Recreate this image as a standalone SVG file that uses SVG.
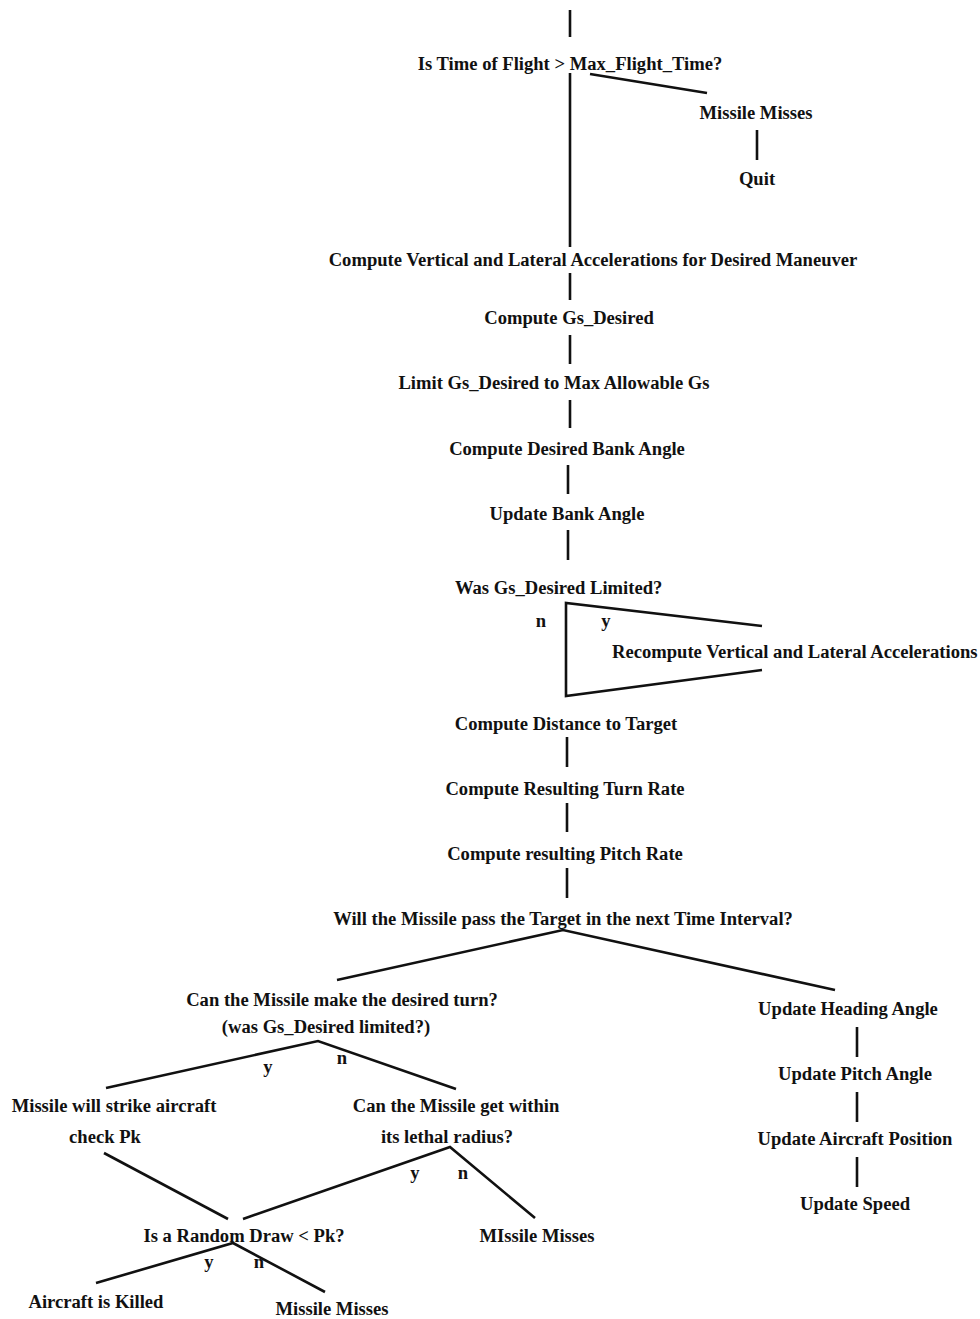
<svg xmlns="http://www.w3.org/2000/svg" width="980" height="1319" viewBox="0 0 980 1319">
  <style>
    text { font-family: "Liberation Serif", "Times New Roman", serif; font-size: 18.6px; font-weight: bold; fill: #111; }
    .c { text-anchor: middle; }
    .l { text-anchor: start; }
    .e { stroke: #111; stroke-width: 2.6; fill: none; stroke-linecap: butt; }
  </style>
  <rect width="980" height="1319" fill="#fff"/>

  <!-- connectors -->
  <g id="connectors" class="e">
    <line x1="570" y1="10" x2="570" y2="37"/>
    <line x1="570" y1="73" x2="570" y2="247"/>
    <line x1="590" y1="74" x2="707" y2="93"/>
    <line x1="757" y1="130" x2="757" y2="160"/>
    <line x1="570" y1="273" x2="570" y2="300"/>
    <line x1="570" y1="335" x2="570" y2="364"/>
    <line x1="570" y1="400" x2="570" y2="428"/>
    <line x1="568" y1="465" x2="568" y2="494"/>
    <line x1="568" y1="530" x2="568" y2="560"/>
    <polyline points="762,626 566,603 566,696 762,670"/>
    <line x1="567" y1="737" x2="567" y2="767"/>
    <line x1="567" y1="803" x2="567" y2="832"/>
    <line x1="567" y1="868" x2="567" y2="898"/>
    <polyline points="337,980 563,930 835,990"/>
    <polyline points="106,1088 318,1041 456,1089"/>
    <line x1="104" y1="1153" x2="228" y2="1219"/>
    <polyline points="243,1219 450,1147 535,1218"/>
    <polyline points="96,1283 233,1243 325,1292"/>
    <line x1="857" y1="1027" x2="857" y2="1057"/>
    <line x1="857" y1="1092" x2="857" y2="1122"/>
    <line x1="857" y1="1157" x2="857" y2="1187"/>
  </g>

  <!-- main sequence -->
  <g id="n-time-check"><text class="c" x="570" y="70">Is Time of Flight &gt; Max_Flight_Time?</text></g>
  <g id="n-timeout-miss"><text class="c" x="756" y="119">Missile Misses</text></g>
  <g id="n-quit"><text class="c" x="757" y="185">Quit</text></g>
  <g id="n-compute-accel"><text class="c" x="593" y="266">Compute Vertical and Lateral Accelerations for Desired Maneuver</text></g>
  <g id="n-compute-gs"><text class="c" x="569" y="324">Compute Gs_Desired</text></g>
  <g id="n-limit-gs"><text class="c" x="554" y="389">Limit Gs_Desired to Max Allowable Gs</text></g>
  <g id="n-desired-bank"><text class="c" x="567" y="455">Compute Desired Bank Angle</text></g>
  <g id="n-update-bank"><text class="c" x="567" y="520">Update Bank Angle</text></g>
  <g id="n-gs-limited"><text class="l" x="455" y="594">Was Gs_Desired Limited?</text></g>
  <g id="lbl-gs-limited">
    <text class="c" x="541" y="627">n</text>
    <text class="c" x="606" y="627">y</text>
  </g>
  <g id="n-recompute"><text class="l" x="612" y="658">Recompute Vertical and Lateral Accelerations</text></g>
  <g id="n-distance"><text class="c" x="566" y="730">Compute Distance to Target</text></g>
  <g id="n-turn-rate"><text class="c" x="565" y="795">Compute Resulting Turn Rate</text></g>
  <g id="n-pitch-rate"><text class="c" x="565" y="860">Compute resulting Pitch Rate</text></g>
  <g id="n-pass-target"><text class="c" x="563" y="925">Will the Missile pass the Target in the next Time Interval?</text></g>

  <!-- pass branch -->
  <g id="n-make-turn">
    <text class="c" x="342" y="1006">Can the Missile make the desired turn?</text>
    <text class="c" x="326" y="1033">(was Gs_Desired limited?)</text>
  </g>
  <g id="lbl-make-turn">
    <text class="c" x="268" y="1073">y</text>
    <text class="c" x="342" y="1064">n</text>
  </g>
  <g id="n-strike">
    <text class="c" x="114" y="1112">Missile will strike aircraft</text>
    <text class="c" x="105" y="1143">check Pk</text>
  </g>
  <g id="n-lethal">
    <text class="c" x="456" y="1112">Can the Missile get within</text>
    <text class="c" x="447" y="1143">its lethal radius?</text>
  </g>
  <g id="lbl-lethal">
    <text class="c" x="415" y="1179">y</text>
    <text class="c" x="463" y="1179">n</text>
  </g>
  <g id="n-random-draw"><text class="c" x="244" y="1242">Is a Random Draw &lt; Pk?</text></g>
  <g id="n-lethal-miss"><text class="c" x="537" y="1242">MIssile Misses</text></g>
  <g id="lbl-random-draw">
    <text class="c" x="209" y="1268">y</text>
    <text class="c" x="259" y="1268">n</text>
  </g>
  <g id="n-killed"><text class="c" x="96" y="1308">Aircraft is Killed</text></g>
  <g id="n-draw-miss"><text class="c" x="332" y="1315">Missile Misses</text></g>

  <!-- no-pass branch -->
  <g id="n-heading"><text class="c" x="848" y="1015">Update Heading Angle</text></g>
  <g id="n-pitch"><text class="c" x="855" y="1080">Update Pitch Angle</text></g>
  <g id="n-position"><text class="c" x="855" y="1145">Update Aircraft Position</text></g>
  <g id="n-speed"><text class="c" x="855" y="1210">Update Speed</text></g>
</svg>
